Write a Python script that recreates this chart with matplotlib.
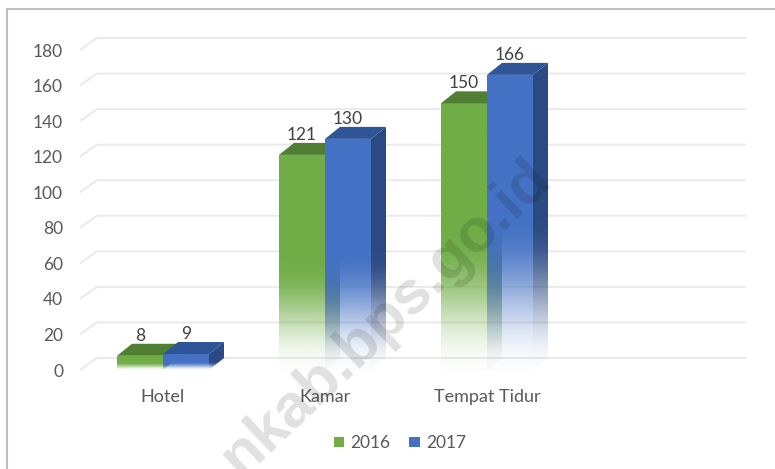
import numpy as np
import matplotlib
matplotlib.use('Agg')
import matplotlib.pyplot as plt
from matplotlib.patches import Polygon, Patch
from matplotlib.colors import to_rgb
from matplotlib.lines import Line2D

categories = ['Hotel', 'Kamar', 'Tempat Tidur']
years = ['2016', '2017']
values_2016 = [8, 121, 150]
values_2017 = [9, 130, 166]
yticks = [0, 20, 40, 60, 80, 100, 120, 140, 160, 180]

front_cols = ['#70AD47', '#4472C4']
top_cols = ['#507E32', '#2F5597']
side_cols = ['#4D7A30', '#2B4A84']

plt.rcParams['font.family'] = ['Lato', 'DejaVu Sans']

W, H = 775, 469
fig = plt.figure(figsize=(W / 100, H / 100), dpi=100)

# pixel geometry of the plot (px from top-left)
ax_l, ax_r, ax_t, ax_b = 75, 765, 20, 385
x0_px, cat_px = 163, 162          # centre of first category, spacing
y0_px, per_unit = 370, 320 / 180  # value 0 row, px per unit
ax = fig.add_axes([ax_l / W, 1 - ax_b / H, (ax_r - ax_l) / W, (ax_b - ax_t) / H])
ax.set_xlim((ax_l - x0_px) / cat_px, (ax_r - x0_px) / cat_px)
ax.set_ylim((y0_px - ax_b) / per_unit, (y0_px - ax_t) / per_unit)
for sp in ax.spines.values():
    sp.set_visible(False)

w = 46 / cat_px       # bar width
dx = 15 / cat_px      # depth offset
dy = 12 / per_unit

# back-wall gridlines
gl_front = (80 - x0_px) / cat_px
gl_back = (97 - x0_px) / cat_px
gl_right = (746 - x0_px) / cat_px
for v in yticks:
    ax.plot([gl_front, gl_back, gl_right], [v, v + dy, v + dy],
            color='#EAEAEA', lw=1.4, zorder=1, solid_capstyle='butt')


def grad_face(xs, ys, color, v, z):
    poly = Polygon(list(zip(xs, ys)), closed=True, facecolor='none',
                   edgecolor='none', zorder=z)
    ax.add_patch(poly)
    n = 200
    yy = np.linspace(0, max(ys), n)
    fade = max(0.5 * v, 1e-6)
    t = np.clip(yy / fade, 0, 1)
    a = t * t * (3 - 2 * t)
    a = 0.02 + 0.98 * a
    rgba = np.zeros((n, 1, 4))
    rgba[:, 0, :3] = to_rgb(color)
    rgba[:, 0, 3] = a
    im = ax.imshow(rgba, extent=(min(xs), max(xs), 0, max(ys)), origin='lower',
                   aspect='auto', interpolation='bilinear', zorder=z)
    im.set_clip_path(poly)


series = [values_2016, values_2017]
z = 2
for i in range(len(categories)):
    for s, vals in enumerate(series):
        v = vals[i]
        xl = i - w + s * w
        xr = xl + w
        # side face
        grad_face([xr, xr + dx, xr + dx, xr], [0, dy, v + dy, v], side_cols[s], v, z)
        # front face
        grad_face([xl, xr, xr, xl], [0, 0, v, v], front_cols[s], v, z + 1)
        # top face
        ax.add_patch(Polygon([(xl, v), (xl + dx, v + dy), (xr + dx, v + dy), (xr, v)],
                             closed=True, facecolor=top_cols[s], edgecolor='none',
                             zorder=z + 1))
        ax.annotate(str(v), (xl + w / 2, v + dy), xytext=(0, 0),
                    textcoords='offset points', ha='center', va='bottom',
                    fontsize=12.5, color='#404040', zorder=20)
        z += 2

ax.set_yticks(yticks)
ax.set_yticklabels([str(t) for t in yticks])
ax.set_xticks(range(len(categories)))
ax.set_xticklabels(categories)
ax.tick_params(axis='y', length=0, pad=8.6, labelsize=12.5, labelcolor='#595959')
ax.tick_params(axis='x', length=0, pad=3, labelsize=13, labelcolor='#595959')

handles = [Patch(facecolor=front_cols[0]), Patch(facecolor=front_cols[1])]
fig.legend(handles, years, loc='center', bbox_to_anchor=(400 / W, 1 - 443 / H),
           ncol=2, frameon=False, fontsize=12.5, labelcolor='#595959',
           handlelength=0.6, handleheight=0.55, handletextpad=0.35,
           columnspacing=1.1)

# watermark
fig.text(387 / W, 1 - 318 / H, 'nkab.bps.go.id', rotation=43.5,
         rotation_mode='anchor', ha='center', va='center', fontsize=44,
         fontweight='bold', family='Liberation Sans', color='black', alpha=0.12,
         zorder=30)

# outer frame (top and left visible)
fig.add_artist(Line2D([7 / W, 7 / W], [0, 1 - 9 / H], color='#BDBDBD', lw=1.5))
fig.add_artist(Line2D([7 / W, 1], [1 - 9 / H, 1 - 9 / H], color='#BDBDBD', lw=1.5))

fig.savefig('out.png', dpi=100)
